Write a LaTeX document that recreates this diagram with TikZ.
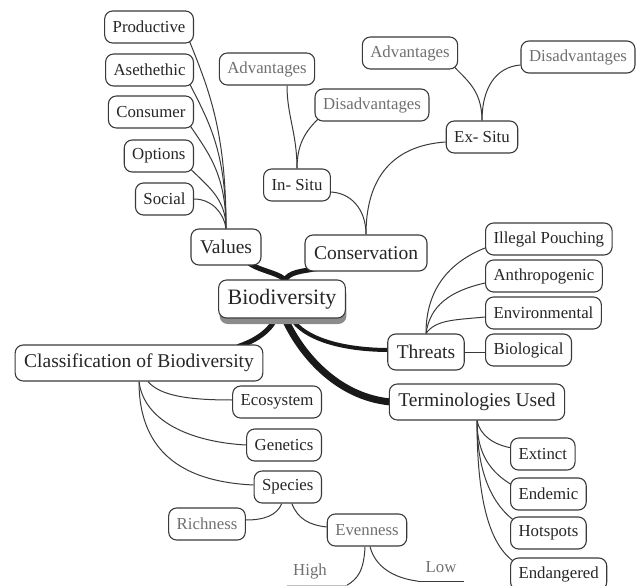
\documentclass[tikz,border=0pt]{standalone}
\usepackage{fontspec}
\setmainfont{Liberation Serif}
\usepackage{tikz}
\usetikzlibrary{calc}
\usetikzlibrary{backgrounds}
\usetikzlibrary{shadows}

\definecolor{boxline}{HTML}{3A3A3A}
\definecolor{greytext}{HTML}{707070}

\tikzset{
  leaf/.style={draw=boxline, line width=1.1pt, rounded corners=8pt, fill=white,
    inner xsep=8pt, inner ysep=0pt, minimum height=32pt,
    font=\fontsize{16.8}{18}\selectfont, text=black!85},
  faded/.style={leaf, text=greytext},
  branch/.style={leaf, minimum height=36pt, inner xsep=9pt,
    font=\fontsize{19.5}{22}\selectfont},
  root/.style={branch, minimum height=38pt, font=\fontsize{22}{24}\selectfont,
    drop shadow={shadow xshift=1pt, shadow yshift=-6pt, fill=black!45, opacity=1}},
  bare/.style={font=\fontsize{16.8}{18}\selectfont, text=greytext,
    minimum height=28pt, inner ysep=0pt, inner xsep=6pt},
  twig/.style={draw=boxline, line width=1pt},
  limb/.style={draw=black!90, line cap=round},
}

\begin{document}
\begin{tikzpicture}[x=1pt, y=-1pt]
    \useasboundingbox (0,0) rectangle (638,586);
    % centre and main branches
    \node[root] (biod) at (282,299) {Biodiversity};
    \node[branch] (vals) at (226,247) {Values};
    \node[branch] (consv) at (366,253) {Conservation};
    \node[branch] (threat) at (426,352) {Threats};
    \node[branch] (terms) at (477,402) {Terminologies Used};
    \node[branch] (clsf) at (139,363) {Classification of Biodiversity};
    % values
    \foreach \nm/\txt/\y in {prod/Productive/27, asth/Asethethic/70,
      consu/Consumer/112, opts/Options/156, soc/Social/199}
    {
      \node[leaf, anchor=east] (\nm) at (194,\y) {\txt};
    }
    % conservation
    \node[leaf] (insitu) at (297,185) {In- Situ};
    \node[faded] (inadv) at (267,69) {Advantages};
    \node[faded] (indis) at (372,105) {Disadvantages};
    \node[leaf] (exsitu) at (482,137) {Ex- Situ};
    \node[faded] (exadv) at (410,53) {Advantages};
    \node[faded] (exdis) at (578,57) {Disadvantages};
    % threats
    \foreach \nm/\txt/\y in {poach/Illegal Pouching/239, anthro/Anthropogenic/276,
      envir/Environmental/313, biol/Biological/350}
    {
      \node[leaf, anchor=west] (\nm) at (485,\y) {\txt};
    }
    % terminologies
    \foreach \nm/\txt/\y in {extn/Extinct/454, endm/Endemic/494,
      hots/Hotspots/533, endg/Endangered/574}
    {
      \node[leaf, anchor=west] (\nm) at (510,\y) {\txt};
    }
    % classification
    \foreach \nm/\txt/\y in {ecos/Ecosystem/402, gene/Genetics/445, spec/Species/487}
    {
      \node[leaf, anchor=east] (\nm) at (322,\y) {\txt};
    }
    \node[faded] (rich) at (207,524) {Richness};
    \node[faded] (even) at (367,530) {Evenness};
    \node[bare] (high) at (310,571) {High};
    \node[bare, inner xsep=7pt] (low) at (441,567) {Low};
    \coordinate (highend) at ($(high.south east)+(14,0)$);
    \draw[black!25, line width=1pt] (high.south west) -- (highend);
    \draw[boxline, line width=1.3pt] (low.south west) -- (low.south east);

    \begin{scope}[on background layer]
      % thick branches
      \draw[limb, line width=5pt] ($(vals.south east)+(-12,-2)$)
        .. controls +(12,8) and +(-4,-8) .. ($(biod.north)+(4,2)$);
      \draw[limb, line width=5pt] ($(consv.south west)+(12,-3)$)
        .. controls +(-15,3) and +(5,-10) .. ($(biod.north)+(2,2)$);
      \draw[limb, line width=5pt] ($(biod.south)+(-6,-2)$)
        .. controls +(-5,15) and +(15,-5) .. ($(clsf.north east)+(-25,2)$);
      \draw[limb, line width=4pt] ($(biod.south)+(8,-2)$)
        .. controls +(15,25) and +(-40,0) .. ($(threat.west)+(2,-2)$);
      \draw[limb, line width=7pt] ($(biod.south)+(2,-2)$)
        .. controls +(15,35) and +(-55,-5) .. ($(terms.west)+(2,0)$);
      % values
      \foreach \nm/\up/\bend in {prod/100/50, asth/80/40, consu/55/30, opts/30/20}
      {
        \draw[twig] (vals.north) .. controls +(0,-\up) and +(20,\bend)
          .. ($(\nm.south east)+(-6,-6)$);
      }
      \draw[twig] (vals.north) .. controls +(-2,-15) and +(18,0) .. (soc.east);
      % in situ and ex situ
      \draw[twig] (insitu.north) .. controls +(0,-35) and +(0,30)
        .. ($(inadv.south)+(20,0)$);
      \draw[twig] (insitu.north) .. controls +(0,-28) and +(-12,12)
        .. ($(indis.south west)+(6,-5)$);
      \draw[twig] ($(insitu.east)+(-2,7)$) .. controls +(22,0) and +(0,-25) .. (consv.north);
      \draw[twig] (consv.north) .. controls +(0,-65) and +(-45,3) .. ($(exsitu.west)+(0,5)$);
      \draw[twig] (exsitu.north) .. controls +(0,-32) and +(12,14)
        .. ($(exadv.south east)+(-6,-5)$);
      \draw[twig] (exsitu.north) .. controls +(0,-32) and +(-25,2) .. ($(exdis.west)+(0,8)$);
      % threats
      \draw[twig] (threat.north) .. controls +(0,-45) and +(-35,14) .. ($(poach.west)+(0,9)$);
      \draw[twig] (threat.north) .. controls +(4,-28) and +(-35,8) .. ($(anthro.west)+(0,7)$);
      \draw[twig] (threat.north) .. controls +(10,-14) and +(-30,3) .. ($(envir.west)+(0,4)$);
      \draw[twig] (threat.east) -- (threat.east -| biol.west);
      % terminologies
      \draw[twig] (terms.south) .. controls +(3,15) and +(-18,-3) .. ($(extn.west)+(2,-6)$);
      \draw[twig] (terms.south) .. controls +(0,35) and +(-20,-12) .. ($(endm.west)+(2,-9)$);
      \draw[twig] (terms.south) .. controls +(0,55) and +(-20,-15) .. ($(hots.north west)+(4,4)$);
      \draw[twig] (terms.south) .. controls +(0,90) and +(-22,-15) .. ($(endg.north west)+(5,5)$);
      % classification
      \draw[twig] ($(clsf.south)+(9,0)$) .. controls +(12,14) and +(-45,0) .. ($(ecos.west)+(0,-2)$);
      \draw[twig] (clsf.south) .. controls +(5,40) and +(-55,-3) .. (gene.west);
      \draw[twig] (clsf.south) .. controls +(0,75) and +(-65,-3) .. ($(spec.west)+(0,-2)$);
      \draw[twig] ($(spec.south)+(-6,0)$) .. controls +(-5,12) and +(18,0) .. ($(rich.east)+(0,-4)$);
      \draw[twig] ($(spec.south)+(4,0)$) .. controls +(6,15) and +(-18,-2) .. ($(even.west)+(0,-3)$);
      \draw[twig] ($(even.south)+(-2,0)$) .. controls +(-1,25) and +(10,-6) .. (highend);
      \draw[twig] ($(even.south)+(3,0)$) .. controls +(5,20) and +(-25,-3) .. (low.south west);
    \end{scope}
\end{tikzpicture}
\end{document}
